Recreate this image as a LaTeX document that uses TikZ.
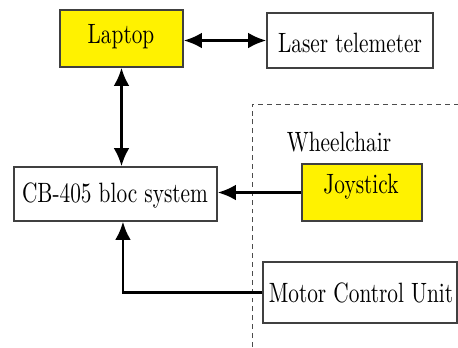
\documentclass[tikz,border=0pt]{standalone}
\usetikzlibrary{arrows.meta}
\newcommand{\stretchtxt}[1]{\scalebox{1.03}[1.35]{#1}}
\begin{document}
\begin{tikzpicture}[x=0.483pt,y=-0.483pt,
  box/.style={draw=black!75,line width=0.6pt,rectangle,inner sep=0pt},
  conn/.style={line width=1.4pt,-{Latex[length=8.8pt,width=7.6pt]}},
  biconn/.style={line width=1.4pt,{Latex[length=8.8pt,width=7.6pt]}-{Latex[length=8.8pt,width=7.6pt]}}]
\useasboundingbox (0,0) rectangle (458,347);
% wheelchair region
\draw[black!70,line width=0.45pt,dash pattern=on 2.4pt off 1.9pt] (252,347) -- (252,104) -- (458,104);
% boxes
\node[box,fill=yellow,minimum width={123*0.483pt},minimum height={57*0.483pt}] (lap) at (121.5,38.5) {};
\node[anchor=base] (laptxt) at (121,43) {\stretchtxt{Laptop}};
\node[box,minimum width={166*0.483pt},minimum height={55*0.483pt}] (las) at (350,40.5) {};
\node[anchor=base] (lastxt) at (350,52) {\stretchtxt{Laser telemeter}};
\node[box,minimum width={203*0.483pt},minimum height={54*0.483pt}] (cb) at (115.5,194) {};
\node[anchor=base] (cbtxt) at (115,202) {\stretchtxt{CB-405 bloc system}};
\node[box,fill=yellow,minimum width={120*0.483pt},minimum height={57*0.483pt}] (joy) at (362,192.5) {};
\node[anchor=base] (joytxt) at (361,193) {\stretchtxt{Joystick}};
\node[box,minimum width={194*0.483pt},minimum height={61*0.483pt}] (mcu) at (360,292.5) {};
\node[anchor=base] (mcutxt) at (361,302) {\stretchtxt{Motor Control Unit}};
\node[anchor=base] (wc) at (339,151) {\stretchtxt{Wheelchair}};
% connectors
\draw[biconn] (lap.east |- las.west) -- (las.west);
\draw[biconn] (lap.south) -- (lap.south |- cb.north);
\draw[conn] (joy.west) -- (joy.west -| cb.east);
\draw[conn] (mcu.west) -| ([xshift=3.6pt]cb.south);
\end{tikzpicture}
\end{document}
